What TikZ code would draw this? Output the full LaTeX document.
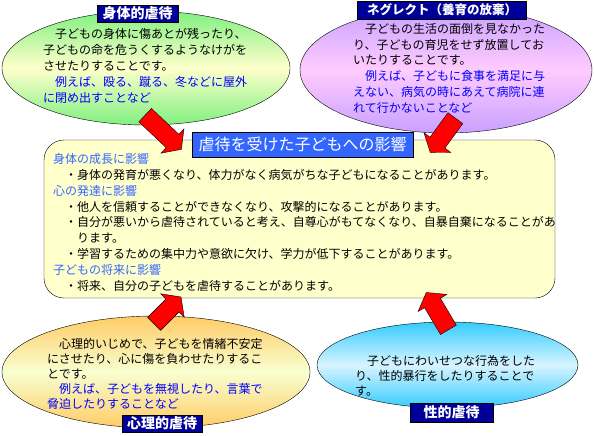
\documentclass[tikz,border=0pt]{standalone}
\usepackage{fontspec}
\setmainfont{Noto Sans CJK JP}
\usepackage{tikz}
\usetikzlibrary{shapes.geometric,shapes.arrows}
\definecolor{navy}{HTML}{000099}
\definecolor{titleblue}{HTML}{3366FF}
\definecolor{headblue}{HTML}{3366FF}
\definecolor{exblue}{HTML}{0000FF}
\definecolor{boxyellow}{HTML}{FFFFCC}
\definecolor{leafgreen}{HTML}{80F080}
\definecolor{lilac}{HTML}{C8A0FF}
\definecolor{pinkish}{HTML}{FFCCFF}
\definecolor{peach}{HTML}{FFCC66}
\definecolor{cream}{HTML}{F8FFD0}
\definecolor{skyblue}{HTML}{33CCFF}
\definecolor{paleblue}{HTML}{D8F4FF}

\begin{document}
\begin{tikzpicture}[x=1pt,y=-1pt,
      bubble/.style={ellipse, draw=black, inner sep=0pt},
      tag/.style={fill=navy, draw=black, text=white, inner sep=0pt,
                  font=\fontsize{14}{14}\selectfont\bfseries},
      txt/.style={anchor=north west, align=left, inner sep=0pt},
      redarrow/.style={single arrow, draw=black, fill=red, inner sep=9pt,
                       single arrow head extend=7.5pt, single arrow tip angle=108,
                       sloped, allow upside down, pos=0, anchor=tail}]
      \useasboundingbox (0,0) rectangle (594,436);
      \node[bubble, minimum width=288, minimum height=114, top color=leafgreen,
            bottom color=leafgreen, middle color=boxyellow] (physical) at (146,68) {};
      \node[bubble, minimum width=292, minimum height=126, top color=lilac,
            bottom color=lilac, middle color=pinkish] (neglect) at (446,70) {};
      \node[bubble, minimum width=308, minimum height=112, top color=peach,
            bottom color=peach, middle color=cream] (mental) at (156,372) {};
      \node[bubble, minimum width=261, minimum height=86, top color=skyblue,
            bottom color=skyblue, middle color=paleblue] (sexual) at (447.5,365) {};
      \node[draw=black, rounded corners=20pt, fill=boxyellow, minimum width=511,
            minimum height=158] (effects) at (299.5,219) {};

      \node[tag, minimum width=81, minimum height=17] (physTag) at (137.5,13.5) {身体的虐待};
      \node[tag, minimum width=169, minimum height=18,
            font=\fontsize{12.5}{12.5}\selectfont\bfseries] (neglTag) at (442,10) {ネグレクト（養育の放棄）};
      \node[tag, minimum width=80, minimum height=17] (mentTag) at (162,423.5) {心理的虐待};
      \node[tag, minimum width=83, minimum height=19] (sexTag) at (451.5,412.5) {性的虐待};
      \node[fill=titleblue, draw=black, text=white, inner sep=0pt, minimum width=221,
            minimum height=25, font=\fontsize{16}{16}\selectfont] (effTitle) at (302.5,144.5) {虐待を受けた子どもへの影響};

      \node[txt, font=\fontsize{12}{16}\selectfont] (physText) at (43,28)
            {　子どもの身体に傷あとが残ったり、\\子どもの命を危うくするようなけがを\\させたりすることです。\\
             \textcolor{exblue}{　例えば、殴る、蹴る、冬などに屋外}\\\textcolor{exblue}{に閉め出すことなど}};
      \node[txt, font=\fontsize{12}{15.8}\selectfont] (neglText) at (353,23)
            {　子どもの生活の面倒を見なかった\\り、子どもの育児をせず放置してお\\いたりすることです。\\
             \textcolor{exblue}{　例えば、子どもに食事を満足に与}\\\textcolor{exblue}{えない、病気の時にあえて病院に連}\\
             \textcolor{exblue}{れて行かないことなど}};
      \node[txt, font=\fontsize{12}{15}\selectfont] (mentText) at (47,338)
            {　心理的いじめで、子どもを情緒不安定\\にさせたり、心に傷を負わせたりするこ\\とです。\\
             \textcolor{exblue}{　例えば、子どもを無視したり、言葉で}\\\textcolor{exblue}{脅迫したりすることなど}};
      \node[txt, font=\fontsize{12}{15}\selectfont] (sexText) at (355,355)
            {　子どもにわいせつな行為をした\\り、性的暴行をしたりすることで\\す。};
      \node[txt, font=\fontsize{12}{15.9}\selectfont] (effText) at (53,153)
            {\textcolor{headblue}{身体の成長に影響}\\
             　・身体の発育が悪くなり、体力がなく病気がちな子どもになることがあります。\\
             \textcolor{headblue}{心の発達に影響}\\
             　・他人を信頼することができなくなり、攻撃的になることがあります。\\
             　・自分が悪いから虐待されていると考え、自尊心がもてなくなり、自暴自棄になることがあ\\
             　　ります。\\
             　・学習するための集中力や意欲に欠け、学力が低下することがあります。\\
             \textcolor{headblue}{子どもの将来に影響}\\
             　・将来、自分の子どもを虐待することがあります。};

      \coordinate (physOut) at (145,115);  \coordinate (physIn) at (181.3,149.3);
      \coordinate (neglOut) at (455.5,118); \coordinate (neglIn) at (430.4,152.2);
      \coordinate (mentOut) at (154,324);  \coordinate (mentIn) at (181,297);
      \coordinate (sexOut) at (448.5,330); \coordinate (sexIn) at (426.4,292.7);
      \path (physOut) -- node[redarrow, minimum height=49.8] (physArrow) {} (physIn);
      \path (neglOut) -- node[redarrow, minimum height=42.5] (neglArrow) {} (neglIn);
      \path (mentOut) -- node[redarrow, minimum height=38] (mentArrow) {} (mentIn);
      \path (sexOut) -- node[redarrow, minimum height=43.4] (sexArrow) {} (sexIn);
\end{tikzpicture}
\end{document}
